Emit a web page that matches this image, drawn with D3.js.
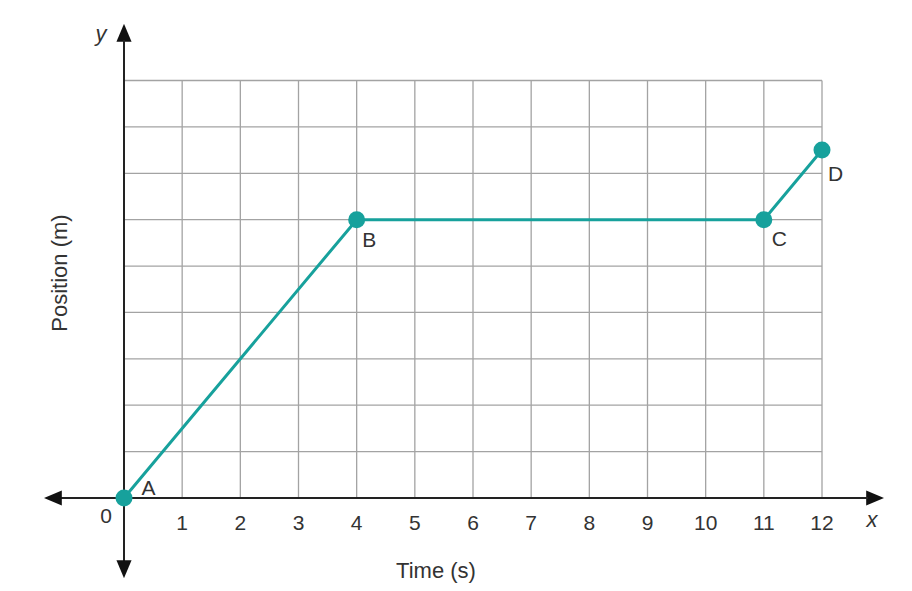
<!DOCTYPE html>
<html lang="en">
  <head>
    <meta charset="UTF-8" />
    <title>Position vs Time</title>
    <script src="https://cdn.jsdelivr.net/npm/d3@7"></script>
    <style>
      body { margin: 0; background: #fff; }
      text { font-family: "Liberation Sans", Arial, sans-serif; fill: #333; }
    </style>
  </head>
  <body>
    <script>
      // data
      var times = [0, 4, 11, 12];
      var positions = [0, 6, 6, 7.5];
      var pointNames = ["A", "B", "C", "D"];
      var xTicks = [1, 2, 3, 4, 5, 6, 7, 8, 9, 10, 11, 12];

      var teal = "#17a19c";

      var svg = d3.select("body").append("svg")
        .attr("width", 912)
        .attr("height", 591);

      var x = d3.scaleLinear().domain([0, 12]).range([124, 822]);
      var y = d3.scaleLinear().domain([0, 9]).range([498, 80.5]);

      // grid
      var grid = svg.append("g").attr("stroke", "#a3a3a3").attr("stroke-width", 1.3);
      grid.selectAll("line.v").data(d3.range(1, 13)).enter().append("line")
        .attr("x1", function (d) { return x(d); })
        .attr("x2", function (d) { return x(d); })
        .attr("y1", y(0))
        .attr("y2", y(9));
      grid.selectAll("line.h").data(d3.range(1, 10)).enter().append("line")
        .attr("x1", x(0))
        .attr("x2", x(12))
        .attr("y1", function (d) { return y(d); })
        .attr("y2", function (d) { return y(d); });

      // axes with arrows
      var defs = svg.append("defs");
      defs.append("marker")
        .attr("id", "arrow")
        .attr("viewBox", "0 0 10 10")
        .attr("refX", 1)
        .attr("refY", 5)
        .attr("markerWidth", 18)
        .attr("markerHeight", 18)
        .attr("markerUnits", "userSpaceOnUse")
        .attr("orient", "auto")
        .append("path")
        .attr("d", "M0,0.8 L10,5 L0,9.2 Z")
        .attr("fill", "#111");

      var axes = svg.append("g").attr("stroke", "#222").attr("stroke-width", 2);
      axes.append("line")
        .attr("x1", 60).attr("x2", 868)
        .attr("y1", y(0)).attr("y2", y(0))
        .attr("marker-end", "url(#arrow)");
      axes.append("line")
        .attr("x1", 868).attr("x2", 60)
        .attr("y1", y(0)).attr("y2", y(0))
        .attr("marker-end", "url(#arrow)");
      axes.append("line")
        .attr("x1", x(0)).attr("x2", x(0))
        .attr("y1", 562).attr("y2", 40)
        .attr("marker-end", "url(#arrow)");
      axes.append("line")
        .attr("x1", x(0)).attr("x2", x(0))
        .attr("y1", 40).attr("y2", 562)
        .attr("marker-end", "url(#arrow)");

      // tick labels
      svg.selectAll("text.xt").data(xTicks).enter().append("text")
        .attr("x", function (d) { return x(d); })
        .attr("y", 530)
        .attr("text-anchor", "middle")
        .attr("font-size", 21)
        .text(function (d) { return d; });
      svg.append("text")
        .attr("x", 106).attr("y", 523)
        .attr("text-anchor", "middle")
        .attr("font-size", 21)
        .text("0");

      svg.append("text")
        .attr("x", 872).attr("y", 527)
        .attr("text-anchor", "middle")
        .attr("font-size", 22)
        .attr("font-style", "italic")
        .text("x");
      svg.append("text")
        .attr("x", 101).attr("y", 41)
        .attr("text-anchor", "middle")
        .attr("font-size", 22)
        .attr("font-style", "italic")
        .text("y");

      svg.append("text")
        .attr("x", 436).attr("y", 578)
        .attr("text-anchor", "middle")
        .attr("font-size", 22)
        .text("Time (s)");
      svg.append("text")
        .attr("transform", "translate(67,273) rotate(-90)")
        .attr("text-anchor", "middle")
        .attr("font-size", 22)
        .text("Position (m)");

      // the path
      var pts = times.map(function (t, i) { return [t, positions[i]]; });
      svg.append("path")
        .datum(pts)
        .attr("fill", "none")
        .attr("stroke", teal)
        .attr("stroke-width", 3)
        .attr("d", d3.line()
          .x(function (d) { return x(d[0]); })
          .y(function (d) { return y(d[1]); }));

      svg.selectAll("circle.pt").data(pts).enter().append("circle")
        .attr("cx", function (d) { return x(d[0]); })
        .attr("cy", function (d) { return y(d[1]); })
        .attr("r", 8.5)
        .attr("fill", teal);

      // point names, offset from each point
      var nameOffsets = [[24.5, -3], [12.5, 27], [15.5, 26], [13.5, 31]];
      svg.selectAll("text.pn").data(pts).enter().append("text")
        .attr("x", function (d, i) { return x(d[0]) + nameOffsets[i][0]; })
        .attr("y", function (d, i) { return y(d[1]) + nameOffsets[i][1]; })
        .attr("text-anchor", "middle")
        .attr("font-size", 21)
        .text(function (d, i) { return pointNames[i]; });
    </script>
  </body>
</html>
